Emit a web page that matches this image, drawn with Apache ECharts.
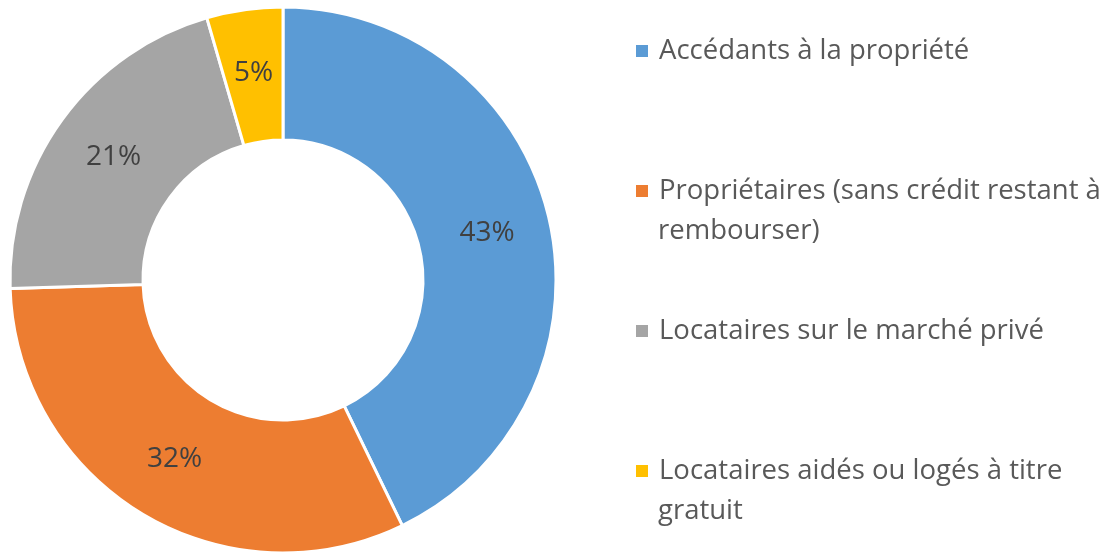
<!DOCTYPE html>
<html>
<head>
<meta charset="utf-8">
<script src="https://cdn.jsdelivr.net/npm/echarts@6/dist/echarts.min.js"></script>
<style>html,body{margin:0;padding:0;background:#fff}#c{width:1112px;height:553px}</style>
</head>
<body>
<div id="c"></div>
<script>
const categories = ["Accédants à la propriété", "Propriétaires (sans crédit restant à rembourser)", "Locataires sur le marché privé", "Locataires aidés ou logés à titre gratuit"];
const legendLine1 = ["Accédants à la propriété", "Propriétaires (sans crédit restant à", "Locataires sur le marché privé", "Locataires aidés ou logés à titre"];
const legendLine2 = ["", "rembourser)", "", "gratuit"];
const values = [42.8, 31.7, 21.0, 4.5];
const colors = ["#5B9BD5", "#ED7D31", "#A5A5A5", "#FFC000"];

const FONT = "Open Sans";
const FS = 27.5;
const legendTops = [51, 191, 331, 471];
const lineGap = 40;

const chart = echarts.init(document.getElementById('c'));
const legends = categories.map((name, i) => ({
  data: [name],
  left: 634,
  top: legendTops[i] - 16,
  padding: 0,
  itemWidth: 14,
  itemHeight: 14,
  icon: 'rect',
  selectedMode: false,
  formatter: () => legendLine1[i],
  textStyle: { fontFamily: FONT, fontSize: FS, color: '#595959', lineHeight: 32, padding: [0, 0, 0, 5] }
}));
const graphics = [];
legendLine2.forEach((t, i) => {
  if (!t) return;
  graphics.push({
    type: 'text', left: 658, top: legendTops[i] + lineGap - 16,
    style: { text: t, font: FS + 'px "' + FONT + '"', fill: '#595959', lineHeight: 32 }
  });
});

chart.setOption({
  color: colors,
  animation: false,
  legend: legends,
  graphic: graphics,
  series: [{
    type: 'pie',
    center: [283, 280],
    radius: [140, 273],
    startAngle: 90,
    clockwise: true,
    avoidLabelOverlap: false,
    itemStyle: { borderColor: '#fff', borderWidth: 3 },
    label: {
      show: true,
      position: 'inside',
      fontFamily: FONT,
      fontSize: 28,
      color: '#404040',
      formatter: p => Math.round(p.value) + '%'
    },
    labelLine: { show: false },
    emphasis: { disabled: true },
    data: categories.map((n, i) => ({ name: n, value: values[i] }))
  }]
});
</script>
</body>
</html>
